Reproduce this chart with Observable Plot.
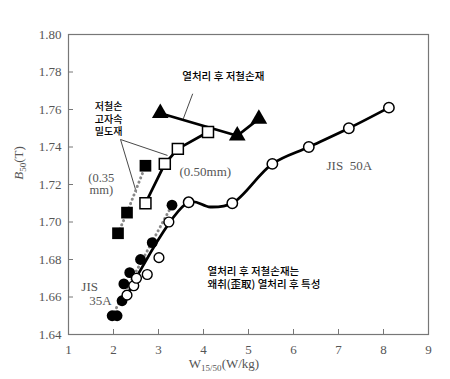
<!DOCTYPE html>
<html><head><meta charset="utf-8">
<script src="https://cdn.jsdelivr.net/npm/d3@7"></script>
<script src="https://cdn.jsdelivr.net/npm/@observablehq/plot@0.6"></script>
<style>body{margin:0;background:#fff}</style>
</head><body><div id="chart"></div>
<script>
// ---- data ----
const xTicks = [1, 2, 3, 4, 5, 6, 7, 8, 9];
const yTicks = [1.64, 1.66, 1.68, 1.70, 1.72, 1.74, 1.76, 1.78, 1.80];

// heat-treated low-loss material (filled triangles)
const triW = [3.04, 4.75, 5.23];
const triB = [1.758, 1.746, 1.755];
// low-loss high-flux 0.50 mm (open squares)
const sq50W = [2.71, 3.14, 3.43, 4.10];
const sq50B = [1.710, 1.731, 1.739, 1.748];
// low-loss high-flux 0.35 mm (filled squares)
const sq35W = [2.10, 2.30, 2.71];
const sq35B = [1.694, 1.705, 1.730];
// JIS 50A (open circles)
const jis50W = [3.67, 4.64, 5.53, 6.34, 7.23, 8.12];
const jis50B = [1.7105, 1.710, 1.731, 1.740, 1.750, 1.761];
// JIS 50A curve (fit line from 35A region + curve)
const curveW = [2.30, 3.67, 4.15, 4.64, 5.53, 6.34, 7.23, 8.12];
const curveB = [1.661, 1.7105, 1.708, 1.710, 1.731, 1.740, 1.750, 1.761];
// JIS 35A open circles
const jis35OpenW = [2.30, 2.45, 2.51, 2.75, 3.01, 3.23];
const jis35OpenB = [1.661, 1.666, 1.670, 1.672, 1.681, 1.700];
// JIS 35A filled circles
const jis35FillW = [1.97, 2.08, 2.19, 2.23, 2.36, 2.60, 2.86, 3.30];
const jis35FillB = [1.650, 1.650, 1.658, 1.667, 1.673, 1.680, 1.689, 1.709];

// annotation texts
const labelTop = "열처리 후 저철손재";
const labelLowLoss = "저철손\n고자속\n밀도재";
const label035 = "(0.35\nmm)";
const label050 = "(0.50mm)";
const labelJis50 = "JIS  50A";
const labelJis35a = "JIS";
const labelJis35b = "35A";
const labelNote = "열처리 후 저철손재는\n왜취(歪取) 열처리 후 특성";

const pts = (w, b) => w.map((x, i) => ({w: x, b: b[i]}));
const tri = pts(triW, triB);
const sq50 = pts(sq50W, sq50B);
const sq35 = pts(sq35W, sq35B);
const j50 = pts(jis50W, jis50B);
const curve = pts(curveW, curveB);
const j35o = pts(jis35OpenW, jis35OpenB);
const j35f = pts(jis35FillW, jis35FillB);
const j35fLine = [j35f[0], j35f[j35f.length - 1]];

// leader lines (data coords)
const leaders = [
  {x1: 3.76, y1: 1.7684, x2: 3.55, y2: 1.7550},
  {x1: 2.156, y1: 1.7440, x2: 3.20, y2: 1.7355},
  {x1: 2.156, y1: 1.7440, x2: 2.51, y2: 1.7157}
];

const KR = "'Noto Sans CJK KR', 'Noto Sans', sans-serif";
const SERIF = "'Liberation Serif', 'DejaVu Serif', serif";

const chart = Plot.plot({
  width: 450, height: 379,
  marginLeft: 68, marginRight: 22, marginTop: 34, marginBottom: 45,
  style: {fontFamily: SERIF, fontSize: "13px", color: "#555", background: "#fff"},
  x: {domain: [1, 9], ticks: xTicks, tickFormat: d => String(d), label: null},
  y: {domain: [1.64, 1.80], ticks: yTicks, tickFormat: d => d.toFixed(2), label: null},
  marks: [
    Plot.frame({stroke: "#777", strokeWidth: 1.2}),
    Plot.axisX(xTicks, {tickSize: 0, tickPadding: 10, fill: "#555", tickFormat: d => String(d)}),
    Plot.axisY(yTicks, {tickSize: 0, tickPadding: 7, fill: "#555", tickFormat: d => d.toFixed(2)}),
    Plot.tickX(xTicks.slice(1, -1), {x: d => d, stroke: "#777", insetTop: 295}),
    Plot.tickY(yTicks.slice(1, -1), {y: d => d, stroke: "#777", insetRight: 355}),
    // leader lines
    Plot.link(leaders, {x1: "x1", y1: "y1", x2: "x2", y2: "y2", stroke: "#333", strokeWidth: 0.9}),
    // dotted lines
    Plot.line(sq35, {x: "w", y: "b", stroke: "#888", strokeWidth: 3, strokeDasharray: "0.1,4.5", strokeLinecap: "round"}),
    Plot.line(j35fLine, {x: "w", y: "b", stroke: "#888", strokeWidth: 3, strokeDasharray: "0.1,4.5", strokeLinecap: "round"}),
    // solid lines
    Plot.line(curve, {x: "w", y: "b", stroke: "#000", strokeWidth: 2.8, curve: "catmull-rom"}),
    Plot.line(sq50, {x: "w", y: "b", stroke: "#000", strokeWidth: 2.8}),
    Plot.line(tri, {x: "w", y: "b", stroke: "#000", strokeWidth: 2.8}),
    // markers
    Plot.dot(j35f, {x: "w", y: "b", r: 5.4, fill: "#000", stroke: "none"}),
    Plot.dot(j35o, {x: "w", y: "b", r: 4.9, fill: "#fff", stroke: "#000", strokeWidth: 1.4}),
    Plot.dot(j50, {x: "w", y: "b", r: 5.2, fill: "#fff", stroke: "#000", strokeWidth: 1.5}),
    Plot.dot(sq35, {x: "w", y: "b", symbol: "square", r: 6.6, fill: "#000", stroke: "none"}),
    Plot.dot(sq50, {x: "w", y: "b", symbol: "square", r: 6.2, fill: "#fff", stroke: "#000", strokeWidth: 1.5}),
    Plot.dot(tri, {x: "w", y: "b", symbol: "triangle", r: 6.2, fill: "#000", stroke: "none"}),
    // annotations
    Plot.text([labelTop], {x: 4.44, y: 1.7776, text: d => d, fontFamily: KR, fontSize: 10.5, fontWeight: 500, fill: "#000"}),
    Plot.text([labelLowLoss], {x: 1.89, y: 1.7552, text: d => d, fontFamily: KR, fontSize: 10, fontWeight: 500, lineHeight: 1.25, fill: "#000"}),
    Plot.text([label035], {x: 1.73, y: 1.7200, text: d => d, fontFamily: SERIF, fontSize: 12.5, lineHeight: 0.95, fill: "#555"}),
    Plot.text([label050], {x: 4.04, y: 1.7269, text: d => d, fontFamily: SERIF, fontSize: 13, fill: "#555"}),
    Plot.text([labelJis50], {x: 7.24, y: 1.7301, text: d => d, fontFamily: SERIF, fontSize: 13, fill: "#555"}),
    Plot.text([labelJis35a], {x: 1.47, y: 1.6652, text: d => d, fontFamily: SERIF, fontSize: 13, fill: "#555"}),
    Plot.text([labelJis35b], {x: 1.71, y: 1.6581, text: d => d, fontFamily: SERIF, fontSize: 13, fill: "#555"}),
    Plot.text([labelNote], {x: 4.09, y: 1.6704, text: d => d, fontFamily: KR, fontSize: 10.5, fontWeight: 500, lineHeight: 1.2, textAnchor: "start", fill: "#000"})
  ]
});

const svg = d3.select(chart);
// y axis title: B50(T)
const yt = svg.append("text")
  .attr("transform", "translate(23,163) rotate(-90)")
  .attr("text-anchor", "middle")
  .attr("font-family", SERIF).attr("font-size", 13).attr("fill", "#555");
yt.append("tspan").attr("font-style", "italic").text("B");
yt.append("tspan").attr("font-size", 9).attr("dy", 3).text("50");
yt.append("tspan").attr("dy", -3).text("(T)");
// x axis title: W15/50(W/kg)
const xt = svg.append("text")
  .attr("x", 224).attr("y", 368)
  .attr("text-anchor", "middle")
  .attr("font-family", SERIF).attr("font-size", 13).attr("fill", "#555");
xt.append("tspan").text("W");
xt.append("tspan").attr("font-size", 9).attr("dy", 3).text("15/50");
xt.append("tspan").attr("dy", -3).text("(W/kg)");

document.getElementById("chart").appendChild(chart);
</script>
</body></html>
